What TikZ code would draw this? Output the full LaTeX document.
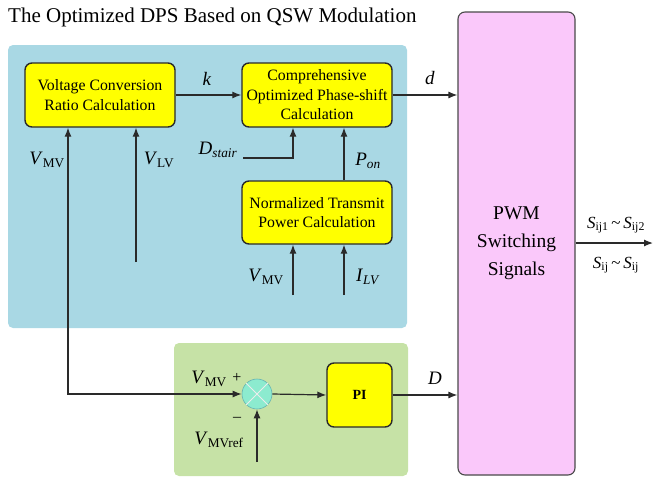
\documentclass[tikz,border=0pt]{standalone}
\usepackage{fontspec}
\setmainfont{Liberation Serif}
\usetikzlibrary{arrows.meta}
\definecolor{panelblue}{HTML}{A9D8E4}
\definecolor{panelgreen}{HTML}{C6E2A6}
\definecolor{calcyellow}{HTML}{FFFF00}
\definecolor{pwmpink}{HTML}{FAC8FA}
\definecolor{sumfill}{HTML}{8CEBCF}
\definecolor{linegray}{HTML}{2A2A2A}
\tikzset{
  panel/.style={rectangle, rounded corners=5pt, inner sep=0pt, draw=none},
  calcbox/.style={rectangle, rounded corners=7pt, draw=linegray, line width=1.4pt,
    fill=calcyellow, align=center, inner sep=0pt,
    font=\fontsize{15.8}{19.5}\selectfont},
  pwmbox/.style={rectangle, rounded corners=7pt, draw=linegray!85, line width=1.1pt,
    fill=pwmpink, align=center, inner sep=0pt,
    font=\fontsize{19.5}{28}\selectfont},
  sumnode/.style={circle, draw=teal!60, line width=0.6pt, fill=sumfill,
    minimum size=30pt, inner sep=0pt},
  sig/.style={draw=linegray, line width=1.2pt, -{Latex[length=9pt,width=7pt]}},
  sigboth/.style={draw=linegray, line width=1.2pt,
    {Latex[length=9pt,width=7pt]}-{Latex[length=9pt,width=7pt]}},
  lbl/.style={inner sep=0pt, font=\fontsize{19}{22}\selectfont},
  smalllbl/.style={inner sep=0pt, font=\fontsize{16}{18}\selectfont},
}
\begin{document}
\begin{tikzpicture}[x=1pt, y=-1pt]
  \useasboundingbox (0,0) rectangle (654,480);

  % title
  \node[anchor=base west, inner sep=0pt, font=\fontsize{21}{24}\selectfont]
    (title) at (8,22) {The Optimized DPS Based on QSW Modulation};

  % background panels
  \node[panel, fill=panelblue, minimum width=399pt, minimum height=283pt]
    (bluepanel) at (207.5,186.5) {};
  \node[panel, fill=panelgreen, minimum width=234pt, minimum height=133pt]
    (greenpanel) at (291,409.5) {};

  % computation blocks
  \node[calcbox, minimum width=150pt, minimum height=64pt]
    (ratio) at (100,95) {Voltage Conversion\\Ratio Calculation};
  \node[calcbox, minimum width=150pt, minimum height=64pt]
    (phase) at (317,95) {Comprehensive\\Optimized Phase-shift\\Calculation};
  \node[calcbox, minimum width=150pt, minimum height=63pt]
    (power) at (317,212.5) {Normalized Transmit\\Power Calculation};
  \node[calcbox, minimum width=65pt, minimum height=64pt,
    font=\fontsize{14}{16}\selectfont\bfseries]
    (pi) at (359.5,395) {PI};
  \node[pwmbox, minimum width=117pt, minimum height=463pt]
    (pwm) at (516.5,243.5) {PWM\\Switching\\Signals};

  % summing junction
  \node[sumnode] (sum) at (257,394) {};
  \draw[white!85!gray, line width=0.8pt]
    (sum.north west) -- (sum.south east)
    (sum.north east) -- (sum.south west);

  % free signal ends
  \coordinate (vmvcorner) at (68,394);
  \coordinate (vlvstart) at (136,262);
  \coordinate (dstairstart) at (243,158);
  \coordinate (dstaircorner) at (293,158);
  \coordinate (pwrvmv) at (293,295);
  \coordinate (pwrilv) at (344,295);
  \coordinate (vref) at (257,462);
  \coordinate (outend) at (653,243);

  % connectors
  \draw[sig] (ratio.east) -- (phase.west);
  \draw[sig] (phase.east) -- (phase.east -| pwm.west);
  \draw[sigboth] (ratio.south -| vmvcorner) -- (vmvcorner) -- (sum.west);
  \draw[sig] (vlvstart) -- (vlvstart |- ratio.south);
  \draw[sig] (dstairstart) -- (dstaircorner) -- (dstaircorner |- phase.south);
  \draw[sig] (power.north -| pwrilv) -- (pwrilv |- phase.south);
  \draw[sig] (pwrvmv) -- (pwrvmv |- power.south);
  \draw[sig] (pwrilv) -- (pwrilv |- power.south);
  \draw[sig] (vref) -- (sum.south);
  \draw[sig] (sum.east) -- (pi.west);
  \draw[sig] (pi.east) -- (pi.east -| pwm.west);
  \draw[sig] (pwm.east |- outend) -- (outend);

  % signal labels
  \node[lbl] (lk) at (207,79) {\textit{k}};
  \node[lbl] (ld) at (430,78) {\textit{d}};
  \node[lbl] (lvmv1) at (47,160) {\textit{V}\textsubscript{MV}};
  \node[lbl] (lvlv) at (159,160) {\textit{V}\textsubscript{LV}};
  \node[lbl] (ldstair) at (218,150) {\textit{D}\textsubscript{\textit{stair}}};
  \node[lbl] (lpon) at (368,161) {\textit{P}\textsubscript{\textit{on}}};
  \node[lbl] (lvmv2) at (266,277) {\textit{V}\textsubscript{MV}};
  \node[lbl] (lilv) at (368,277) {\textit{I}\textsubscript{\textit{LV}}};
  \node[lbl] (lvmv3) at (209,379) {\textit{V}\textsubscript{MV}};
  \node[smalllbl] (lplus) at (237,378) {+};
  \node[smalllbl] (lminus) at (237,419) {\textendash};
  \node[lbl] (lvref) at (219,440) {\textit{V}\textsubscript{MVref}};
  \node[lbl] (lD) at (435,378) {\textit{D}};
  \node[lbl, font=\fontsize{17}{20}\selectfont] (ls1) at (616,225)
    {\textit{S}\textsubscript{ij1}\,\textasciitilde\,\textit{S}\textsubscript{ij2}};
  \node[lbl, font=\fontsize{17}{20}\selectfont] (ls2) at (616,265)
    {\textit{S}\textsubscript{ij}\,\textasciitilde\,\textit{S}\textsubscript{ij}};
\end{tikzpicture}
\end{document}
